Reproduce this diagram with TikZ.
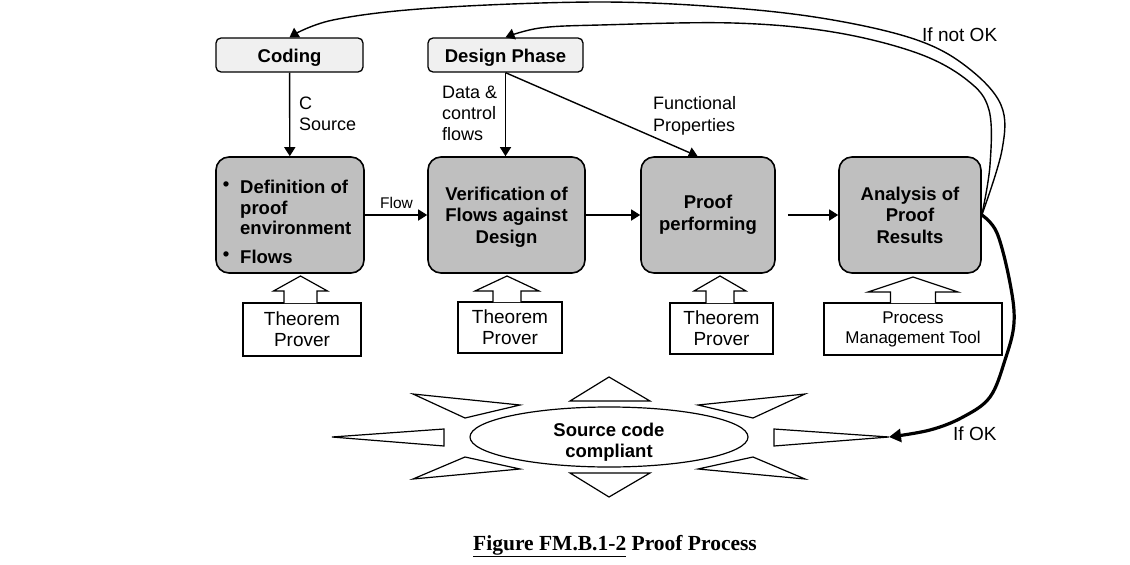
\documentclass[tikz,border=0pt]{standalone}
\usepackage{fontspec}
\setmainfont{Liberation Sans}
\newfontfamily\captionfont{Liberation Serif}
\usetikzlibrary{arrows.meta,shapes.geometric}

\tikzset{
  topbox/.style={draw, line width=1.3pt, rounded corners=5pt, fill=black!6, minimum height=34pt,
    text height=15pt, text depth=0pt, font=\bfseries\fontsize{18.5}{21}\selectfont},
  stepbox/.style={draw, line width=1.6pt, rounded corners=13pt, fill=gray!50, minimum height=116pt,
    align=center, font=\bfseries\fontsize{18.5}{21.5}\selectfont},
  steptext/.style={inner sep=0pt, align=left, font=\bfseries\fontsize{18.5}{20.5}\selectfont},
  toolbox/.style={draw, line width=1.3pt, fill=white, align=center, font=\fontsize{19}{21}\selectfont},
  lbl/.style={inner sep=0pt, anchor=north west, align=left, font=\fontsize{18}{21}\selectfont},
  arr/.style={-{Triangle[length=9pt,width=11pt]}, line width=1.4pt},
  ray/.style={draw, line width=1.2pt, fill=white},
}

% centre x, shaft half width, head half width, box top y, tip y
\newcommand{\blockup}[5]{%
  \draw[line width=1.2pt, fill=white] (#1-#2,#4) -- (#1-#2,#5+15) -- (#1-#3,#5+15) -- (#1,#5)
    -- (#1+#3,#5+15) -- (#1+#2,#5+15) -- (#1+#2,#4);}

\begin{document}
\begin{tikzpicture}[x=1pt, y=-1pt]
\useasboundingbox (0,0) rectangle (1130,565);

% top inputs
\node[topbox, minimum width=147pt] (cod) at (289.5,55) {Coding};
\node[topbox, minimum width=155pt] (dp) at (505.5,55) {Design Phase};

% process steps
\node[stepbox, minimum width=148pt] (def) at (290,215) {};
\node[stepbox, minimum width=157pt, text depth=0pt] (ver) at (506.5,215) {Verification of\\Flows against\\Design};
\node[stepbox, minimum width=134pt] (pp) at (708,215) {Proof\\performing};
\node[stepbox, minimum width=142pt] (an) at (910,215) {Analysis of\\Proof\\Results};

\node[steptext, anchor=north west] (defa) at (240,180) {Definition of\\proof\\environment};
\node[steptext, anchor=base west] (defb) at (240,263) {Flows};
\node[steptext, anchor=base] (bula) at (226,190) {\textbullet};
\node[steptext, anchor=base] (bulb) at (226,260) {\textbullet};

% tools
\node[toolbox, minimum width=118pt, minimum height=53pt] (tp1) at (302,329.5) {Theorem\\Prover};
\node[toolbox, minimum width=104pt, minimum height=51pt] (tp2) at (510,327.5) {Theorem\\Prover};
\node[toolbox, minimum width=103pt, minimum height=51pt] (tp3) at (721.5,328.5) {Theorem\\Prover};
\node[toolbox, minimum width=178pt, minimum height=52pt, font=\fontsize{17}{20}\selectfont] (pmt) at (913,329) {Process\\Management Tool};

\blockup{300.5}{16.5}{27}{303}{276}
\blockup{507}{14}{32}{302}{276}
\blockup{720}{14}{26}{303}{276}
\blockup{913}{22.5}{45}{303}{277}

% flows
\draw[arr] (cod) -- (def);
\draw[arr] (dp.south) -- (dp.south |- ver.north);
\draw[arr] (dp.south) -- (pp.100);
\draw[arr] (def) -- (ver);
\draw[arr] (ver) -- (pp);
\draw[arr, shorten <=12pt] (pp) -- (an);

\node[lbl] (csrc) at (299,97) {C\\Source};
\node[lbl] (dcf) at (442,86) {Data \&\\control\\flows};
\node[lbl, font=\fontsize{18}{22}\selectfont] (fp) at (653,96) {Functional\\Properties};
\node[lbl, font=\fontsize{15.5}{18}\selectfont] (flw) at (380,197) {Flow};

% feedback
\draw[arr] plot[smooth, tension=0.6] coordinates {(an.east) (1002,150) (1001,105) (967,67) (917,40)
  (833,20) (733,8) (600,2) (433,8) (333,20) (cod.north)};
\draw[arr] plot[smooth, tension=0.6] coordinates {(an.east) (990,165) (989,110) (967,80) (917,53)
  (833,32) (733,23) (600,25) (540,28) (dp.north)};
\node[lbl, font=\fontsize{19}{22}\selectfont] (nok) at (922,28) {If not OK};

% result
\node[draw, ellipse, line width=1.2pt, minimum width=278pt, minimum height=60pt] (scc) at (609,437) {};
\node[align=center, inner sep=0pt, font=\bfseries\fontsize{18.5}{21}\selectfont] (scct) at (609,442) {Source code\\compliant};
\foreach \a/\b/\c in {{(413,394)}/{(520,405)}/{(465,418)}, {(413,479)}/{(520,469)}/{(465,457)},
  {(332,437)}/{(444,429)}/{(444,446)}, {(570,401)}/{(650,401)}/{(609,377)},
  {(570,473)}/{(650,473)}/{(609,497)}, {(889,437)}/{(774,429)}/{(774,446)},
  {(805,394)}/{(698,405)}/{(753,418)}, {(805,479)}/{(698,469)}/{(753,457)}}
  \draw[ray] \a -- \b -- \c -- cycle;
\coordinate (rtip) at (889,437);

\draw[-{Triangle[length=12pt,width=13pt]}, line width=3.2pt] plot[smooth, tension=0.6] coordinates {(an.east)
  (997,233) (1010,283) (1014,323) (1005,360) (990,397) (963,417) (930,430) (rtip)};
\node[lbl, font=\fontsize{19}{22}\selectfont] (ok) at (953,427) {If OK};

\node[anchor=base, font=\captionfont\bfseries\fontsize{21.5}{24}\selectfont] (cap) at (615,550)
  {\underline{Figure FM.B.1-2} Proof Process};
\end{tikzpicture}
\end{document}
